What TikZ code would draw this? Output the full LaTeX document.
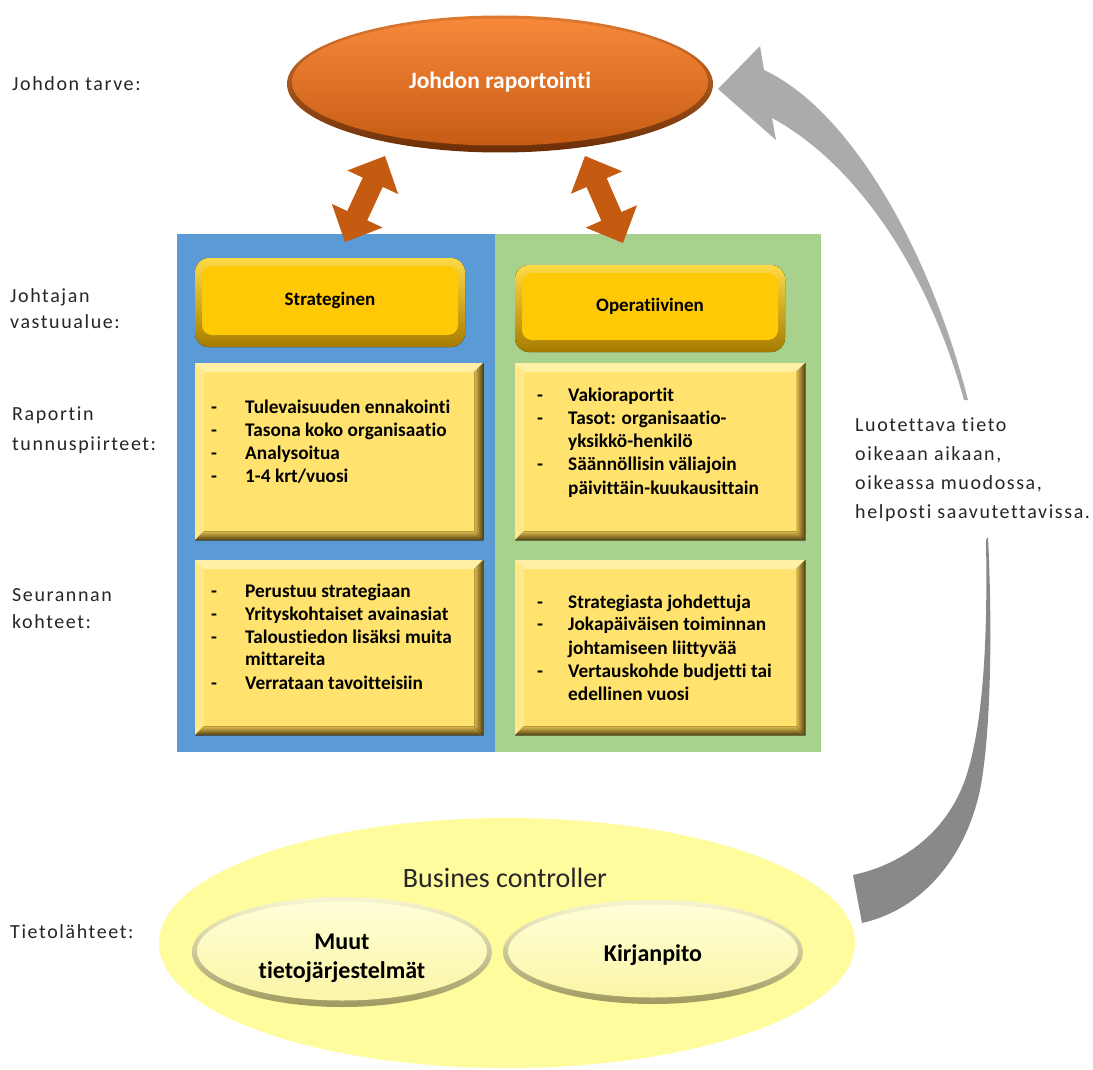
\documentclass[tikz,border=0pt]{standalone}
\usepackage{fontspec}
\setmainfont[Ligatures={NoCommon}]{Carlito}
\newfontfamily\spacedfont[LetterSpace=8,Ligatures={NoCommon}]{Carlito}
\usetikzlibrary{calc,shapes.geometric}

\definecolor{orangeTop}{HTML}{F7883A}
\definecolor{orangeBot}{HTML}{C65C14}
\definecolor{orangeRimTop}{HTML}{E07A30}
\definecolor{orangeRimBot}{HTML}{6B2E08}
\definecolor{arrowOrange}{HTML}{C55A11}
\definecolor{panelBlue}{HTML}{5B9BD5}
\definecolor{panelGreen}{HTML}{A9D18E}
\definecolor{goldTop}{HTML}{FFDA45}
\definecolor{goldDark}{HTML}{A67C00}
\definecolor{goldMain}{HTML}{FFC905}
\definecolor{boxFill}{HTML}{FFE36E}
\definecolor{boxLight}{HTML}{FFF0A6}
\definecolor{boxLeft}{HTML}{FFE98A}
\definecolor{boxShadeIn}{HTML}{DDBB4E}
\definecolor{boxShadeOut}{HTML}{4E3C0E}
\definecolor{sourceYellow}{HTML}{FFFC9E}
\definecolor{pillTop}{HTML}{F8F6D2}
\definecolor{pillRim}{HTML}{9E9960}
\definecolor{pillFaceTop}{HTML}{FFFFD8}
\definecolor{pillFaceBot}{HTML}{FAF5A6}
\definecolor{grayUpper}{HTML}{ADAAAA}
\definecolor{grayLower}{HTML}{8B8888}
\definecolor{labelInk}{HTML}{262626}

\tikzset{
  sidelabel/.style={anchor=base west, inner sep=0, text=labelInk,
    font=\spacedfont\fontsize{20}{24}\selectfont},
  itemtext/.style={anchor=base west, inner sep=0,
    font=\bfseries\fontsize{19.3}{23}\selectfont},
  goldtext/.style={inner sep=0, font=\bfseries\fontsize{19}{23}\selectfont},
  pilltext/.style={inner sep=0, align=center,
    font=\bfseries\fontsize{24}{29}\selectfont},
  panel/.style={anchor=north west, inner sep=0, draw=none},
}

% rounded golden heading box: name, x1, y1, x2, y2, text
\newcommand\goldbox[6]{%
  \fill[rounded corners=14pt, top color=goldTop, bottom color=goldDark]
    (#2,#3) rectangle (#4,#5);
  \fill[rounded corners=10pt, goldMain]
    ($(#2,#3)+(7,8)$) rectangle ($(#4,#5)+(-7,-12)$);
  \node[goldtext] (#1) at ($(#2,#3)!0.5!(#4,#5)+(0,-2)$) {#6};
}

% bevelled yellow text box: name, x, y, width, height
\newcommand\bevelbox[5]{%
  \node[anchor=north west, inner sep=0, minimum width=#4pt,
        minimum height=#5pt, fill=boxFill] (#1) at (#2,#3) {};
  \fill[boxLight] (#1.north west) -- (#1.north east)
    -- ($(#1.north east)+(-9,9)$) -- ($(#1.north west)+(9,9)$) -- cycle;
  \fill[boxLeft] (#1.north west) -- ($(#1.north west)+(9,9)$)
    -- ($(#1.south west)+(9,-9)$) -- (#1.south west) -- cycle;
  \fill[left color=boxShadeIn, right color=boxShadeOut] (#1.north east)
    -- (#1.south east) -- ($(#1.south east)+(-9,-9)$)
    -- ($(#1.north east)+(-9,9)$) -- cycle;
  \fill[top color=boxShadeIn, bottom color=boxShadeOut] (#1.south west)
    -- ($(#1.south west)+(9,-9)$) -- ($(#1.south east)+(-9,-9)$)
    -- (#1.south east) -- cycle;
}

% two-headed block arrow between coordinates #1 and #2
\newcommand\dblarrow[2]{%
  \coordinate (#1h) at ($(#1)!29pt!(#2)$);
  \coordinate (#2h) at ($(#2)!29pt!(#1)$);
  \fill[arrowOrange] (#2)
    -- ($(#2h)!28pt!90:(#2)$) -- ($(#2h)!11pt!90:(#2)$)
    -- ($(#1h)!11pt!-90:(#1)$) -- ($(#1h)!28pt!-90:(#1)$)
    -- (#1)
    -- ($(#1h)!28pt!90:(#1)$) -- ($(#1h)!11pt!90:(#1)$)
    -- ($(#2h)!11pt!-90:(#2)$) -- ($(#2h)!28pt!-90:(#2)$)
    -- cycle;
}

\begin{document}
\begin{tikzpicture}[x=1pt,y=-1pt]
\useasboundingbox (0,0) rectangle (1093,1070);
\fill[white] (0,0) rectangle (1093,1070);

% ---- two columns ----
\node[panel, fill=panelBlue, minimum width=318pt, minimum height=518pt]
  (stratPanel) at (177,234) {};
\node[panel, fill=panelGreen, minimum width=326pt, minimum height=518pt]
  (operPanel) at (495,234) {};

% ---- management reporting ----
\node[ellipse, inner sep=0, minimum width=426pt, minimum height=137pt,
      top color=orangeRimTop, bottom color=orangeRimBot]
  (reportRim) at (500,84) {};
\node[ellipse, inner sep=0, minimum width=416pt, minimum height=127pt,
      top color=orangeTop, bottom color=orangeBot,
      text=white, font=\bfseries\fontsize{23.5}{28}\selectfont]
  (report) at (500,82) {Johdon raportointi};

% ---- links between reporting and the columns ----
\coordinate (lArrowLow) at (345,242);
\coordinate (lArrowHigh) at (385,156);
\coordinate (rArrowLow) at (623,243);
\coordinate (rArrowHigh) at (585,156);
\dblarrow{lArrowLow}{lArrowHigh}
\dblarrow{rArrowLow}{rArrowHigh}

% ---- heading boxes ----
\goldbox{strat}{195}{258}{465}{347}{Strateginen}
\goldbox{oper}{515}{265}{785}{352}{Operatiivinen}

% ---- report characteristics ----
\bevelbox{stratChar}{195}{363}{288}{177}
\bevelbox{operChar}{515}{363}{290}{177}
\bevelbox{stratTarget}{195}{560}{288}{175}
\bevelbox{operTarget}{515}{560}{290}{175}

% left characteristics
\node[itemtext] (scd1) at (211,413) {-};
\node[itemtext] (sc1) at (245,413) {Tulevaisuuden ennakointi};
\node[itemtext] (scd2) at (211,436) {-};
\node[itemtext] (sc2) at (245,436) {Tasona koko organisaatio};
\node[itemtext] (scd3) at (211,459) {-};
\node[itemtext] (sc3) at (245,459) {Analysoitua};
\node[itemtext] (scd4) at (211,482) {-};
\node[itemtext] (sc4) at (245,482) {1-4 krt/vuosi};

% right characteristics
\node[itemtext] (ocd1) at (537,401) {-};
\node[itemtext] (oc1) at (568,401) {Vakioraportit};
\node[itemtext] (ocd2) at (537,424) {-};
\node[itemtext] (oc2) at (568,424) {Tasot: organisaatio-};
\node[itemtext] (oc3) at (568,447) {yksikkö-henkilö};
\node[itemtext] (ocd4) at (537,470) {-};
\node[itemtext] (oc4) at (568,470) {Säännöllisin väliajoin};
\node[itemtext] (oc5) at (568,494) {päivittäin-kuukausittain};

% left targets
\node[itemtext] (std1) at (211,597) {-};
\node[itemtext] (st1) at (245,597) {Perustuu strategiaan};
\node[itemtext] (std2) at (211,620) {-};
\node[itemtext] (st2) at (245,620) {Yrityskohtaiset avainasiat};
\node[itemtext] (std3) at (211,643) {-};
\node[itemtext] (st3) at (245,643) {Taloustiedon lisäksi muita};
\node[itemtext] (st4) at (245,665) {mittareita};
\node[itemtext] (std5) at (211,689) {-};
\node[itemtext] (st5) at (245,689) {Verrataan tavoitteisiin};

% right targets
\node[itemtext] (otd1) at (537,608) {-};
\node[itemtext] (ot1) at (568,608) {Strategiasta johdettuja};
\node[itemtext] (otd2) at (537,630) {-};
\node[itemtext] (ot2) at (568,630) {Jokapäiväisen toiminnan};
\node[itemtext] (ot3) at (568,654) {johtamiseen liittyvää};
\node[itemtext] (otd4) at (537,677) {-};
\node[itemtext] (ot4) at (568,677) {Vertauskohde budjetti tai};
\node[itemtext] (ot5) at (568,700) {edellinen vuosi};

% ---- data sources ----
\node[ellipse, inner sep=0, minimum width=696pt, minimum height=250pt,
      fill=sourceYellow] (sources) at (507,943) {};
\node[inner sep=0, font=\fontsize{28}{32}\selectfont, text=labelInk]
  (controller) at (505,878) {Busines controller};

\node[ellipse, inner sep=0, minimum width=300pt, minimum height=110pt,
      top color=pillTop, bottom color=pillRim] (otherRim) at (342,952) {};
\node[ellipse, inner sep=0, minimum width=290pt, minimum height=99pt,
      top color=pillFaceTop, bottom color=pillFaceBot] (otherFace) at (342,951) {};
\node[pilltext] (other) at (342,958) {Muut\\tietojärjestelmät};

\node[ellipse, inner sep=0, minimum width=300pt, minimum height=104pt,
      top color=pillTop, bottom color=pillRim] (bookRim) at (653,952) {};
\node[ellipse, inner sep=0, minimum width=290pt, minimum height=93pt,
      top color=pillFaceTop, bottom color=pillFaceBot] (bookFace) at (653,951) {};
\node[pilltext] (book) at (653,955) {Kirjanpito};

% ---- feedback arrow from the sources up to reporting ----
\fill[grayUpper] (718,89) -- (760,46) -- (764,70)
  .. controls (850,110) and (930,250) .. (968,400)
  -- (964,400)
  .. controls (925,260) and (850,160) .. (772,118)
  -- (776,140) -- cycle;
\fill[grayLower] (853,875) -- (862,923)
  .. controls (920,910) and (965,860) .. (980,790)
  .. controls (990,740) and (993,640) .. (988,537)
  -- (986,540)
  .. controls (988,650) and (982,730) .. (965,780)
  .. controls (945,835) and (900,865) .. (853,875) -- cycle;

\node[sidelabel] (quality1) at (855,431) {Luotettava tieto};
\node[sidelabel] (quality2) at (855,460) {oikeaan aikaan,};
\node[sidelabel] (quality3) at (855,489) {oikeassa muodossa,};
\node[sidelabel] (quality4) at (855,518) {helposti saavutettavissa.};

% ---- row labels ----
\node[sidelabel] (needLabel) at (12,91) {Johdon tarve:};
\node[sidelabel] (areaLabel1) at (10,302) {Johtajan};
\node[sidelabel] (areaLabel2) at (10,328) {vastuualue:};
\node[sidelabel] (charLabel1) at (12,420) {Raportin};
\node[sidelabel] (charLabel2) at (12,450) {tunnuspiirteet:};
\node[sidelabel] (targetLabel1) at (12,601) {Seurannan};
\node[sidelabel] (targetLabel2) at (12,628) {kohteet:};
\node[sidelabel] (sourceLabel) at (10,938) {Tietolähteet:};
\end{tikzpicture}
\end{document}
